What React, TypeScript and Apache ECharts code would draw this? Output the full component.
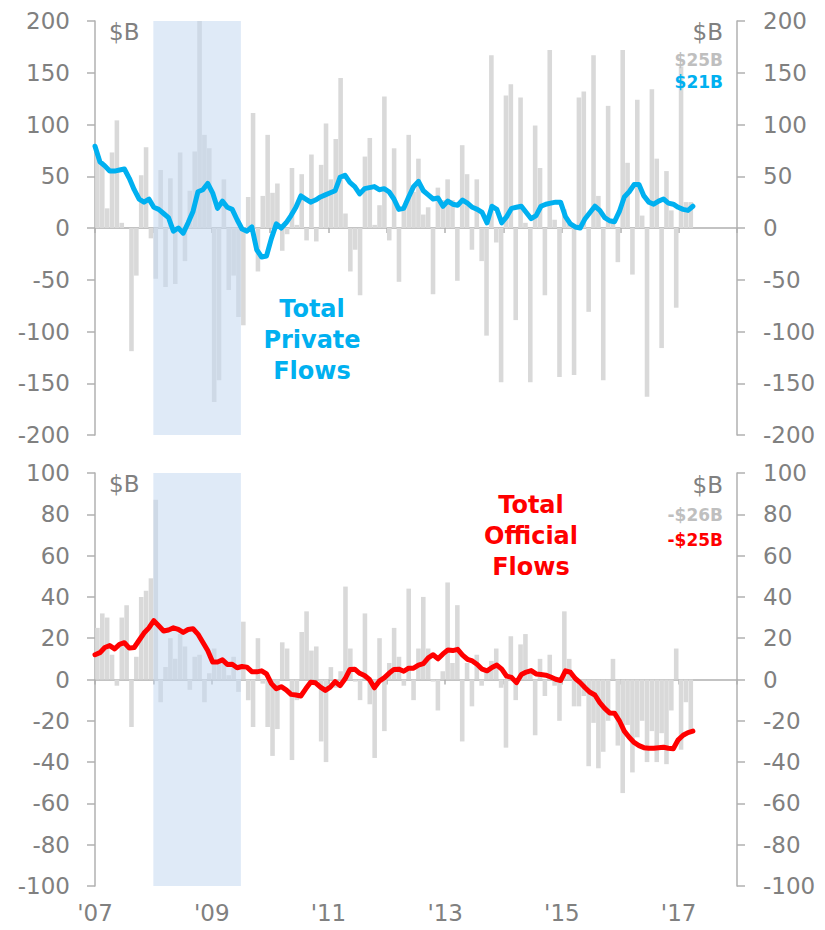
import React, { useEffect, useRef } from 'react';
import * as echarts from 'echarts';

// ---------- data ----------
const startYear = 2007;
const monthCount = 132; // Jan 2007 .. Dec 2017
const months: string[] = [];
for (let i = 0; i < monthCount; i++) {
  const y = startYear + Math.floor(i / 12);
  const m = (i % 12) + 1;
  months.push(`${y}-${String(m).padStart(2, '0')}`);
}

// one label per year boundary (blank = no label)
const yearTickLabels = ["'07", '', "'09", '', "'11", '', "'13", '', "'15", '', "'17", ''];

const recession = ['2008-01', '2009-06'];

// Total private flows, monthly ($B), Jan 2007 .. Mar 2017
const privateBars = [
  70, 62, 19, 73, 104, 5, 0, -119, -46, 51, 78, -10,
  -49, 56, -57, 48, -54, 73, -32, 36, 74, 200, 90, 77,
  -168, -147, 47, -60, -46, -86, -94, 30, 111, -42, 31, 90,
  34, 43, -22, -6, 58, 3, 52, -12, 71, -13, 61, 101,
  47, 86, 145, 14, -42, -21, -65, 69, 87, 3, 22, 127,
  -12, 77, -52, 18, 90, 35, 67, 13, 20, -64, 39, 27,
  47, 27, -51, 80, 52, -21, 47, -32, -104, 167, -14, -149,
  128, 139, -89, 126, 5, -149, 99, 58, -65, 172, 8, -144,
  18, 4, -142, 126, 132, -81, 167, 31, -147, 118, 8, -33,
  172, 63, -45, 124, 12, -163, 134, 67, -116, 55, 17, -77,
  156, 25, 25,
];

// Total private flows, 12-month average ($B)
const privateLine = [
  79, 64, 60, 55, 55, 56, 57, 48, 37, 28, 25, 28,
  20, 18, 14, 10, -3, 0, -5, 5, 16, 35, 37, 43,
  34, 19, 26, 20, 18, 8, -1, -3, 1, -21, -28, -27,
  -10, 4, 0, 5, 12, 20, 31, 28, 25, 27, 30, 32,
  34, 36, 49, 51, 44, 40, 33, 38, 39, 40, 37, 38,
  35, 28, 18, 19, 30, 40, 45, 36, 32, 28, 29, 21,
  26, 23, 22, 27, 24, 20, 18, 15, 5, 21, 18, 5,
  11, 19, 20, 21, 15, 9, 12, 21, 23, 24, 25, 25,
  11, 4, 1, 0, 9, 15, 21, 17, 10, 7, 6, 16,
  30, 35, 42, 42, 31, 25, 23, 26, 28, 24, 23, 20,
  18, 17, 21,
];

// Total official flows, monthly ($B)
const officialBars = [
  25, 32, 30, 12, -3, 30, 36, -23, 11, 40, 43, 49,
  87, -11, 6, 20, 10, 22, 16, -5, 11, 12, -11, 3,
  15, 8, 10, 2, 11, -6, 28, -10, -23, 20, -2, -23,
  -37, -24, 18, 15, -39, -10, 23, 33, 14, 16, -30, -40,
  6, -4, 4, 45, 15, -1, -10, 32, -12, -38, 20, -25,
  8, 25, 11, -3, 44, -10, 15, 40, 15, -1, -15, 4,
  47, 8, 36, -30, 8, -13, 12, -3, 4, 9, 15, -4,
  -33, 21, -10, 17, 22, 4, -27, 10, -8, 12, -3, -20,
  33, 10, -13, -13, -8, -42, -21, -43, -35, -20, 10, -32,
  -55, -22, -45, -28, -20, -40, -25, -40, -26, -41, -15, 15,
  -34, -11, -26,
];

// Total official flows, 12-month average ($B)
const officialLine = [
  12, 13, 15.5, 16.4, 14.8, 17, 17.8, 15.2, 15.5, 19, 22.5, 25,
  28.5, 26, 23.5, 24, 25, 24.3, 22.8, 24.2, 24.6, 22, 18, 14,
  8.5, 8.5, 9.5, 7.3, 7.4, 5.7, 6.3, 6, 3.8, 3.7, 4.2, 2.7,
  -2, -4.5, -3.5, -5, -7.2, -7.5, -8, -4.5, -1.3, -1.6, -3.7, -5.3,
  -3.7, -1, -3, 0.2, 4.8, 5, 3, 1.9, 0, -4, -0.8, 0.8,
  3, 4.9, 5, 4, 5.5, 5.5, 7, 7.7, 10.5, 12, 10, 12.4,
  14.3, 14, 14.6, 11.8, 9.8, 9, 7.3, 5, 4.2, 5.8, 7, 5,
  1.6, 1, -1.5, 2.4, 3.6, 4.3, 2.7, 2.4, 2.1, 1.2, 0.1, -0.5,
  4.2, 3.5, 0.5, -1.5, -4, -6.2, -7.5, -11.2, -14, -16.2, -16.3, -20,
  -25, -28, -30.5, -32, -33, -33.3, -33.3, -33, -32.8, -33.3, -33.5, -29.2,
  -27, -25.7, -25,
];

// ---------- styles ----------
const FONT = 'DejaVu Sans';
const GRAY = '#808080';
const LIGHT = '#bfbfbf';
const AXIS = '#b0b0b0';
const BAR = '#d9d9d9';
const BLUE = '#00b0f0';
const RED = '#ff0000';
const SHADE = 'rgba(197,217,241,0.55)';

const fmtB = (v: number) => `${v < 0 ? '-' : ''}$${Math.abs(Math.round(v))}B`;

function xAxesFor(g: number) {
  return [
    {
      type: 'category', gridIndex: g, data: months, boundaryGap: true,
      axisLine: { show: true, onZero: true, lineStyle: { color: AXIS, width: 1.5 } },
      axisTick: { show: true, interval: (i: number) => i % 12 === 0, length: 5, lineStyle: { color: AXIS, width: 1.5 } },
      axisLabel: { show: false },
      splitLine: { show: false },
    },
    { type: 'category', gridIndex: g, data: months, boundaryGap: false, show: false },
    {
      type: 'value', gridIndex: g, min: 0, max: monthCount, interval: 12, position: 'bottom',
      show: g === 1,
      axisLine: { show: false, onZero: false },
      axisTick: { show: false },
      splitLine: { show: false },
      axisLabel: {
        show: g === 1,
        formatter: (v: number) => yearTickLabels[Math.round(v / 12)] ?? '',
        color: GRAY, fontSize: 23, fontFamily: FONT, margin: 15,
      },
    },
  ];
}

function yAxesFor(g: number, max: number, step: number) {
  const label = { color: GRAY, fontSize: 23, fontFamily: FONT };
  const common = {
    type: 'value', gridIndex: g, min: -max, max, interval: step,
    splitLine: { show: false },
    axisLine: { show: true, lineStyle: { color: AXIS, width: 1.5 } },
    axisTick: { show: true, length: 8, lineStyle: { color: AXIS, width: 1.5 } },
  };
  return [
    { ...common, position: 'left', axisLabel: { ...label, margin: 25 } },
    { ...common, position: 'right', axisLabel: { ...label, margin: 26 } },
  ];
}

function panelSeries(g: number, bars: number[], line: number[], color: string) {
  const xBase = g * 3;
  const yBase = g * 2;
  const recStart = months.indexOf(recession[0]);
  const recEnd = months.indexOf(recession[1]) + 1;
  return [
    {
      type: 'bar', xAxisIndex: xBase, yAxisIndex: yBase, data: bars,
      itemStyle: { color: BAR }, barCategoryGap: '6%', z: 2, silent: true,
    },
    {
      type: 'line', xAxisIndex: xBase + 2, yAxisIndex: yBase, data: [], silent: true,
      markArea: {
        silent: true, z: 3,
        itemStyle: { color: SHADE },
        data: [[{ xAxis: recStart }, { xAxis: recEnd }]],
      },
    },
    {
      type: 'line', xAxisIndex: xBase + 1, yAxisIndex: yBase, data: line,
      showSymbol: false, symbol: 'none', z: 4, silent: true,
      lineStyle: { color, width: 5, cap: 'round', join: 'round' },
    },
  ];
}

const txt = (x: number, y: number, text: string, style: any) => ({
  type: 'text', x, y, silent: true, z: 10,
  style: { text, fontFamily: FONT, verticalAlign: 'middle', ...style },
});

export default function App() {
  const ref = useRef<HTMLDivElement>(null);
  useEffect(() => {
    if (!ref.current) return;
    const chart = echarts.init(ref.current, undefined, { renderer: 'svg' });
    const option: any = {
      animation: false,
      grid: [
        { left: 95, right: 88, top: 21, height: 414 },
        { left: 95, right: 88, top: 473, height: 413 },
      ],
      xAxis: [...xAxesFor(0), ...xAxesFor(1)],
      yAxis: [...yAxesFor(0, 200, 50), ...yAxesFor(1, 100, 20)],
      series: [
        ...panelSeries(0, privateBars, privateLine, BLUE),
        ...panelSeries(1, officialBars, officialLine, RED),
      ],
      graphic: [
        txt(109, 32, '$B', { fill: GRAY, fontSize: 23, align: 'left' }),
        txt(723, 32, '$B', { fill: GRAY, fontSize: 23, align: 'right' }),
        txt(723, 60, fmtB(privateBars[privateBars.length - 1]), { fill: LIGHT, fontSize: 17, fontWeight: 'bold', align: 'right' }),
        txt(723, 82, fmtB(privateLine[privateLine.length - 1]), { fill: BLUE, fontSize: 17, fontWeight: 'bold', align: 'right' }),
        txt(312, 340, 'Total\nPrivate\nFlows', { fill: BLUE, fontSize: 24, fontWeight: 'bold', align: 'center', lineHeight: 31 }),
        txt(109, 484, '$B', { fill: GRAY, fontSize: 23, align: 'left' }),
        txt(723, 485, '$B', { fill: GRAY, fontSize: 23, align: 'right' }),
        txt(723, 515, fmtB(officialBars[officialBars.length - 1]), { fill: LIGHT, fontSize: 17, fontWeight: 'bold', align: 'right' }),
        txt(723, 540, fmtB(officialLine[officialLine.length - 1]), { fill: RED, fontSize: 17, fontWeight: 'bold', align: 'right' }),
        txt(531, 536, 'Total\nOfficial\nFlows', { fill: RED, fontSize: 24, fontWeight: 'bold', align: 'center', lineHeight: 31 }),
      ],
    };
    chart.setOption(option);
    return () => chart.dispose();
  }, []);
  return (
    <div
      ref={ref}
      style={{ position: 'fixed', left: 0, top: 0, width: 825, height: 930, background: '#fff' }}
    />
  );
}
